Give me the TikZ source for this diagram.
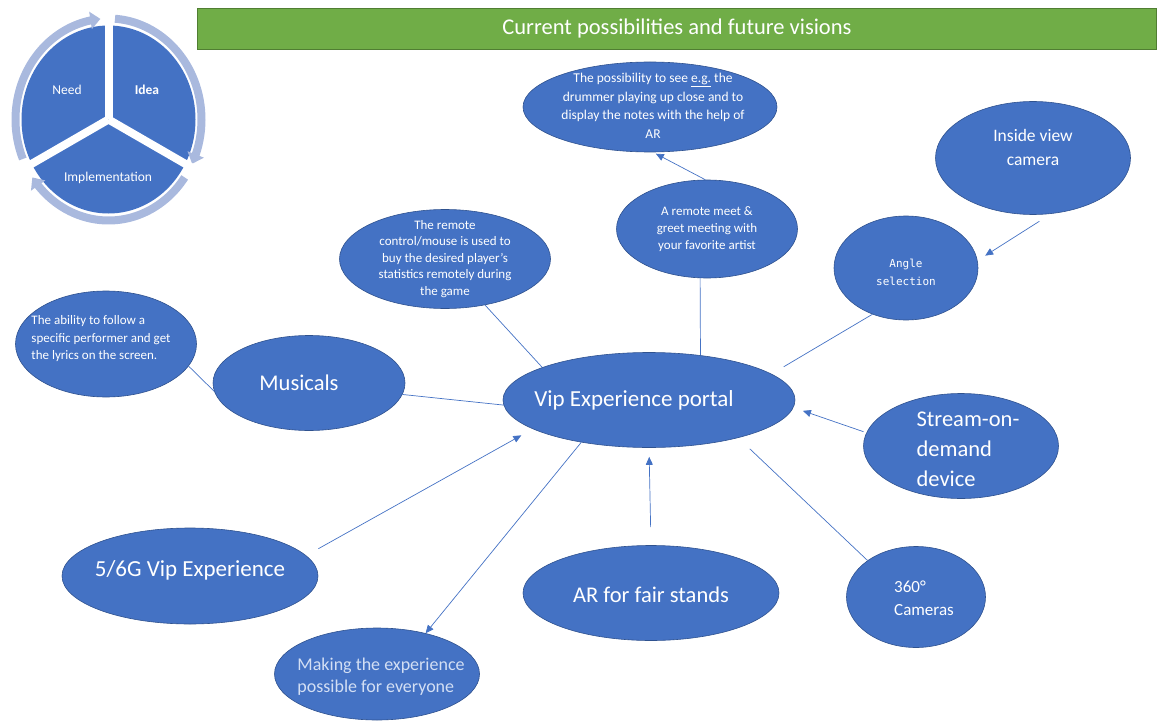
\documentclass[tikz,border=0pt]{standalone}
\usepackage{fontspec}
\setmainfont{Carlito}
\newfontfamily\codefont{DejaVu Sans Mono}
\usetikzlibrary{shapes.geometric,arrows.meta,bending}
\definecolor{bubfill}{HTML}{4472C4}
\definecolor{bubline}{HTML}{2F528F}
\definecolor{ringblue}{HTML}{A9B9DE}
\definecolor{titlegreen}{HTML}{70AD47}
\definecolor{titleline}{HTML}{507E32}
\definecolor{paletext}{HTML}{D3DFF4}

\begin{document}
\begin{tikzpicture}[x=1pt,y=-1pt,
    bub/.style={ellipse,draw=bubline,fill=bubfill,line width=0.6pt,inner sep=0pt},
    txt/.style={text=white,align=center,inner sep=0pt},
    link/.style={bubfill,line width=0.7pt},
    arr/.style={link,-{Triangle[length=8pt,width=7pt]}},
    ring/.style={ringblue,line width=8pt,-{Triangle[length=10pt,width=17pt]}}]
  \useasboundingbox (0,0) rectangle (1161,722);

  % idea cycle, top left
  \coordinate (hub) at (108.5,119.5);
  \fill[bubfill] (hub) ellipse[x radius=87,y radius=94];
  \draw[ring] (hub) ++(-203:93 and 101) arc[start angle=-203,end angle=-95,x radius=93,y radius=101];
  \draw[ring] (hub) ++(-86:93 and 101) arc[start angle=-86,end angle=26,x radius=93,y radius=101];
  \draw[ring] (hub) ++(35:93 and 101) arc[start angle=35,end angle=145,x radius=93,y radius=101];
  \foreach \a in {-90,30,150} \draw[white,line width=8pt] (hub) -- ++(\a:118);
  \node[txt,font=\fontsize{13.5}{16}\selectfont] (need) at (67,90) {Need};
  \node[txt,font=\fontsize{13.5}{16}\selectfont\bfseries] (idea) at (147,90) {Idea};
  \node[txt,font=\fontsize{13.5}{16}\selectfont] (impl) at (108,178) {Implementation};

  % title bar
  \node[draw=titleline,fill=titlegreen,text=white,minimum width=959pt,minimum height=41pt,
    font=\fontsize{22.5}{26}\selectfont] (title) at (677,29) {Current possibilities and future visions};

  % bubbles
  \node[bub,minimum width=292pt,minimum height=95pt,
    label={[txt,xshift=-15pt,font=\fontsize{23}{28}\selectfont]center:Vip Experience portal}] (portal) at (649,400) {};
  \node[bub,minimum width=192pt,minimum height=95pt,
    label={[txt,xshift=-10pt,font=\fontsize{22.5}{27}\selectfont]center:Musicals}] (musicals) at (309,383) {};
  \node[bub,minimum width=181pt,minimum height=106pt,
    label={[txt,align=left,xshift=-5pt,yshift=5pt,font=\fontsize{13}{17.5}\selectfont]center:{The ability to follow a\\specific performer and get\\the lyrics on the screen.}}] (follow) at (106,344) {};
  \node[bub,minimum width=211pt,minimum height=99pt,
    label={[txt,font=\fontsize{13}{16.5}\selectfont]center:{The remote\\control/mouse is used to\\buy the desired player's\\statistics remotely during\\the game}}] (remote) at (445,259) {};
  \node[bub,minimum width=181pt,minimum height=98pt,
    label={[txt,font=\fontsize{13}{17}\selectfont]center:{A remote meet \&\\greet meeting with\\your favorite artist}}] (meet) at (707,229) {};
  \node[bub,minimum width=254pt,minimum height=90pt,
    label={[txt,xshift=3pt,yshift=1pt,font=\fontsize{13.5}{18.5}\selectfont]center:{The possibility to see \underline{e.g.} the\\drummer playing up close and to\\display the notes with the help of\\AR}}] (drummer) at (650,107) {};
  \node[bub,minimum width=195pt,minimum height=113pt,
    label={[txt,yshift=11pt,font=\fontsize{17.5}{24}\selectfont]center:{Inside view\\camera}}] (inside) at (1033,158) {};
  \node[bub,minimum width=144pt,minimum height=104pt,
    label={[txt,yshift=-4pt,font=\codefont\fontsize{11}{18}\selectfont]center:{Angle\\selection}}] (angle) at (906,268) {};
  \node[bub,minimum width=195pt,minimum height=105pt,
    label={[txt,align=left,xshift=7pt,yshift=-3pt,font=\fontsize{22.5}{30}\selectfont]center:{Stream-on-\\demand\\device}}] (stream) at (961,446) {};
  \node[bub,minimum width=139pt,minimum height=101pt,
    label={[txt,align=left,xshift=8pt,yshift=-1pt,font=\fontsize{17}{23}\selectfont]center:{360°\\Cameras}}] (cams) at (916,597) {};
  \node[bub,minimum width=256pt,minimum height=95pt,
    label={[txt,yshift=-2pt,font=\fontsize{22.5}{27}\selectfont]center:AR for fair stands}] (arfair) at (651,593) {};
  \node[bub,minimum width=256pt,minimum height=96pt,
    label={[txt,yshift=6pt,font=\fontsize{23}{28}\selectfont]center:5/6G Vip Experience}] (fiveg) at (190,576) {};
  \node[bub,minimum width=205pt,minimum height=92pt,
    label={[txt,text=paletext,align=left,xshift=4pt,yshift=-3pt,font=\fontsize{18}{22}\selectfont]center:{Making the experience\\possible for everyone}}] (everyone) at (377,674) {};

  % connectors
  \draw[link] (follow.-15)--(musicals.185); \draw[link] (musicals.-7)--(portal.182);
  \draw[link] (remote.-49)--(portal.163); \draw[link] (meet.-98)--(portal.41);
  \draw[arr,shorten >=3pt] (meet.92)--(drummer.-86);
  \draw[arr,shorten <=14pt,shorten >=9pt] (inside.-72)--(angle.6);
  \draw[link,shorten >=14pt] (angle.234)--(portal.12);
  \draw[arr,shorten <=3pt,shorten >=10pt] (stream.172)--(portal.-3);
  \draw[link,shorten >=16pt] (cams.143)--(portal.-23);
  \draw[arr,shorten <=18pt,shorten >=9pt] (arfair.north)--(portal.south);
  \draw[arr,shorten <=14pt,shorten >=13pt] (fiveg.10)--(portal.194);
  \draw[arr] (portal.212)--(everyone.40);
\end{tikzpicture}
\end{document}
